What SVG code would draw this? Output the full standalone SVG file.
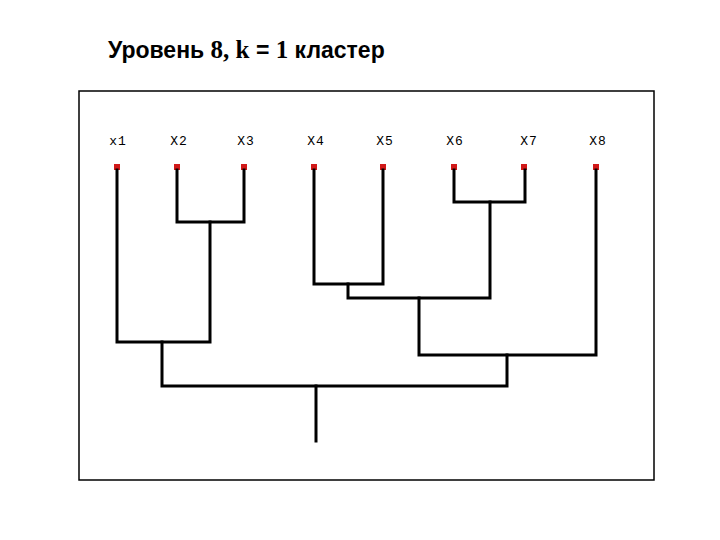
<svg xmlns="http://www.w3.org/2000/svg" width="720" height="540" viewBox="0 0 720 540">
<style>
.title{font-family:"Liberation Sans",Arial,sans-serif;font-weight:bold;font-size:23px;fill:#000}
.serif{font-family:"Liberation Serif","Times New Roman",serif;font-size:25px}
.lbl{font-family:"Liberation Mono","Courier New",monospace;font-size:13px;fill:#000;text-anchor:middle;letter-spacing:1px}
.leaf{fill:#d01818}
.ln{stroke:#000;stroke-width:3;fill:none;stroke-linecap:square;stroke-linejoin:miter}
.frame{fill:#fff;stroke:#000;stroke-width:1.5}
</style>
<rect width="720" height="540" fill="#fff"/>
<text class="title" x="108" y="58">Уровень <tspan class="serif">8, k</tspan> = <tspan class="serif">1</tspan> кластер</text>
<rect class="frame" x="79" y="91" width="575" height="389"/>
<g id="leaves">
<g id="n1"><text class="lbl" x="118" y="145">x1</text><rect class="leaf" x="114" y="164" width="6" height="6"/></g>
<g id="n2"><text class="lbl" x="179" y="145">X2</text><rect class="leaf" x="174" y="164" width="6" height="6"/></g>
<g id="n3"><text class="lbl" x="246" y="145">X3</text><rect class="leaf" x="241" y="164" width="6" height="6"/></g>
<g id="n4"><text class="lbl" x="316" y="145">X4</text><rect class="leaf" x="311" y="164" width="6" height="6"/></g>
<g id="n5"><text class="lbl" x="385" y="145">X5</text><rect class="leaf" x="380" y="164" width="6" height="6"/></g>
<g id="n6"><text class="lbl" x="455" y="145">X6</text><rect class="leaf" x="451" y="164" width="6" height="6"/></g>
<g id="n7"><text class="lbl" x="529" y="145">X7</text><rect class="leaf" x="521" y="164" width="6" height="6"/></g>
<g id="n8"><text class="lbl" x="598" y="145">X8</text><rect class="leaf" x="593" y="164" width="6" height="6"/></g>
</g>
<g id="connectors">
<path class="ln" d="M177 170 V222 H244 V170"/>
<path class="ln" d="M117 170 V342 H210 V222"/>
<path class="ln" d="M314 170 V284 H383 V170"/>
<path class="ln" d="M454 170 V202 H525 V170"/>
<path class="ln" d="M348 284 V298 H490 V202"/>
<path class="ln" d="M419 298 V355 H596 V170"/>
<path class="ln" d="M162 342 V386 H507 V355"/>
<path class="ln" d="M316 386 V441"/>
</g>
</svg>
